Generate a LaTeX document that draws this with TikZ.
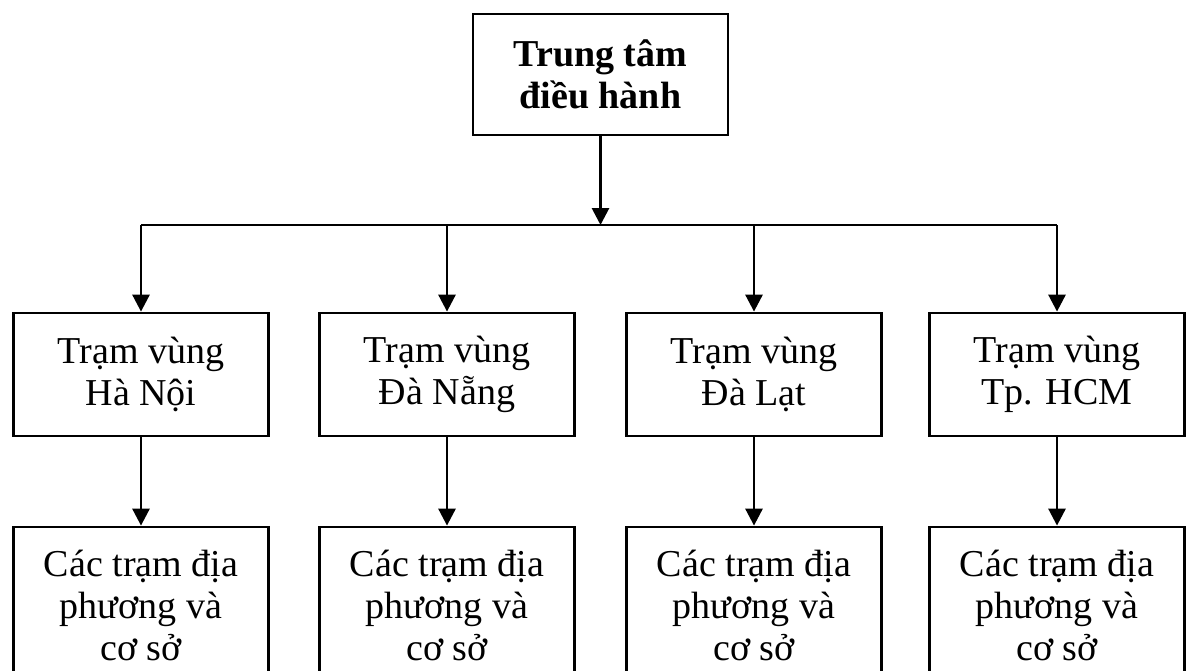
\documentclass[tikz,border=0pt]{standalone}
\usepackage{fontspec}
\setmainfont{Liberation Serif}
\usetikzlibrary{positioning,arrows.meta}

\begin{document}
\begin{tikzpicture}[x=0.5pt, y=-0.5pt, >={Triangle[length=8.5pt,width=8.5pt]},
  box/.style={draw, line width=1.4pt, minimum width=127.5pt, minimum height=61.5pt,
    align=center, inner sep=0pt, font=\fontsize{19}{21}\selectfont},
  tallbox/.style={box, minimum height=78pt},
  link/.style={line width=1.4pt}]

\useasboundingbox (0,0) rectangle (1186,670);
\clip (0,0) rectangle (1186,670);

% Control centre
\node[box, minimum height=60.5pt, font=\bfseries\fontsize{19}{21}\selectfont] (centre) at (600.5,74.5) {Trung tâm\\điều hành};

% Distribution bus
\coordinate (bus) at (600.5,225);
\coordinate (busL) at (141,225);
\coordinate (busR) at (1057,225);
\draw[link,->] (centre) -- (bus);
\draw[link] (busL) -- (busR);

% Regional stations and local stations
\foreach \x/\name/\lab in {141/hn/Hà Nội, 447/dn/Đà Nẵng, 754/dl/Đà Lạt, 1057/hcm/Tp. HCM} {
    \node[box] (\name) at (\x,374.5) {Trạm vùng\\\lab};
    \node[tallbox] (\name-loc) at (\x,605) {Các trạm địa\\phương và\\cơ sở};
    \coordinate (\name-bus) at (\x,225);
    \draw[link,->] (\name-bus) -- (\name);
    \draw[link,->] (\name) -- (\name-loc);
}

\end{tikzpicture}
\end{document}
